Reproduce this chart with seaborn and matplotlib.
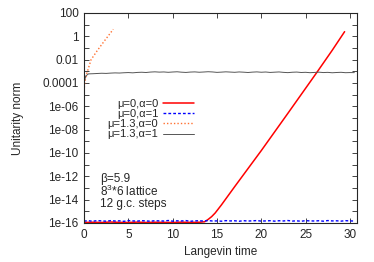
import numpy as np
import pandas as pd
import matplotlib
matplotlib.use("Agg")
import matplotlib.pyplot as plt
import matplotlib.ticker as mticker
import seaborn as sns

# mu=0, alpha=0 (red): flat near roundoff, then exponential growth
red_t = [0, 1, 2, 3, 4, 5, 6, 7, 8, 9, 10, 11, 12, 13, 13.6, 14.0, 14.4, 14.8,
         15.5, 17, 20, 23, 26.3, 28, 29.4]
red_v = [1.1e-16, 1.15e-16, 1.1e-16, 1.2e-16, 1.12e-16, 1.1e-16, 1.18e-16, 1.1e-16,
         1.15e-16, 1.12e-16, 1.1e-16, 1.17e-16, 1.12e-16, 1.15e-16, 1.26e-16, 2.0e-16,
         3.5e-16, 7.2e-16, 3.5e-15, 1.3e-13, 1.6e-10, 2.5e-7, 8.7e-4, 0.063, 2.5]

# mu=0, alpha=1 (blue dashed), every 0.5 in Langevin time, units of 1e-16
blue_v = [1.45, 1.55, 1.4, 1.6, 1.5, 1.42, 1.58, 1.47, 1.52, 1.38,
          1.6, 1.5, 1.44, 1.57, 1.49, 1.41, 1.56, 1.5, 1.46, 1.62,
          1.43, 1.53, 1.48, 1.59, 1.4, 1.51, 1.55, 1.45, 1.6, 1.47,
          1.5, 1.42, 1.58, 1.49, 1.54, 1.41, 1.57, 1.46, 1.52, 1.6,
          1.44, 1.5, 1.56, 1.43, 1.55, 1.48, 1.61, 1.45, 1.52, 1.4,
          1.58, 1.5, 1.47, 1.55, 1.42, 1.6, 1.49, 1.53, 1.44, 1.57, 1.5, 1.46]

# mu=1.3, alpha=0 (orange dotted)
orange_t = [0, 0.02, 0.1, 0.3, 0.8, 1.5, 2.3, 3.3]
orange_v = [1e-16, 3e-5, 1.3e-4, 6e-4, 1e-2, 6e-2, 0.4, 4.0]

# mu=1.3, alpha=1 (grey): start-up, then plateau every 0.5 from t=1 (units of 1e-4)
grey_start_t = [0, 0.02, 0.2, 0.5]
grey_start_v = [1e-16, 1.2e-4, 4e-4, 6e-4]
grey_plateau = [6.2, 6.5, 6.8, 6.6, 7.0, 7.3, 7.1, 7.5, 7.8, 7.4,
                8.0, 8.3, 7.9, 8.6, 9.0, 8.5, 8.8, 8.2, 8.7, 9.1,
                8.4, 8.0, 8.6, 8.9, 8.3, 8.7, 9.2, 8.8, 8.1, 8.5,
                9.0, 8.6, 8.2, 8.8, 8.4, 7.9, 8.5, 8.9, 8.3, 8.7,
                8.0, 8.4, 8.8, 8.1, 7.7, 8.3, 8.6, 7.9, 8.2, 7.6,
                8.0, 8.4, 7.8, 8.1, 7.5, 7.9, 8.2, 7.6, 7.8, 7.7]

labels = ["μ=0,α=0", "μ=0,α=1", "μ=1.3,α=0", "μ=1.3,α=1"]
ytick_vals = [1e-16, 1e-14, 1e-12, 1e-10, 1e-8, 1e-6, 1e-4, 1e-2, 1, 100]
ytick_labels = ["1e-16", "1e-14", "1e-12", "1e-10", "1e-08", "1e-06",
                "0.0001", "0.01", "1", "100"]

blue_t = np.arange(len(blue_v)) * 0.5
blue = np.array(blue_v) * 1e-16
grey_t = grey_start_t + list(1.0 + np.arange(len(grey_plateau)) * 0.5)
grey = grey_start_v + list(np.array(grey_plateau) * 1e-4)

sns.set_style("ticks")
plt.rcParams["font.family"] = ["Liberation Sans", "DejaVu Sans"]
plt.rcParams["font.size"] = 8
plt.rcParams["mathtext.fontset"] = "custom"
plt.rcParams["mathtext.rm"] = "Liberation Sans"
plt.rcParams["mathtext.it"] = "Liberation Sans"

fig = plt.figure(figsize=(3.74, 2.62), dpi=100)
ax = fig.add_axes([0.2246, 0.149, 0.73, 0.8015])

sns.lineplot(x=red_t, y=red_v, color="#ff0000", lw=1.1, ax=ax, sort=False,
             estimator=None, label=labels[0])
sns.lineplot(x=blue_t, y=blue, color="#0000ff", lw=1.0, ls=(0, (2, 1.5)), ax=ax,
             sort=False, estimator=None, label=labels[1])
sns.lineplot(x=orange_t, y=orange_v, color="#ff7030", lw=1.0, ls=(0, (1, 1.5)), ax=ax,
             sort=False, estimator=None, label=labels[2])
sns.lineplot(x=grey_t, y=grey, color="#555555", lw=0.7, ax=ax, sort=False,
             estimator=None, label=labels[3])

ax.set_yscale("log")
ax.set_xlim(0, 30.8)
ax.set_ylim(1e-16, 100)
ax.yaxis.set_major_locator(mticker.FixedLocator(ytick_vals))
ax.yaxis.set_major_formatter(mticker.FixedFormatter(ytick_labels))
ax.yaxis.set_minor_locator(mticker.FixedLocator([10.0 ** k for k in range(-15, 2, 2)]))
ax.yaxis.set_minor_formatter(mticker.NullFormatter())
ax.set_xticks([0, 5, 10, 15, 20, 25, 30])
ax.tick_params(which="both", direction="in", top=True, right=True, labelsize=8.5,
               length=3.5, width=0.6, pad=4)
ax.tick_params(which="minor", length=3.5)
for s in ax.spines.values():
    s.set_linewidth(0.8)

ax.set_xlabel("Langevin time", fontsize=8.5, labelpad=4)
ax.set_ylabel("Unitarity norm", fontsize=8.5, labelpad=13)

ax.text(0.058, 0.238, "β=5.9\n8$^3$*6 lattice\n12 g.c. steps", transform=ax.transAxes,
        ha="left", va="top", fontsize=8.5, linespacing=0.92)

ax.legend(loc="upper right", bbox_to_anchor=(0.53, 0.64),
          bbox_transform=fig.transFigure, frameon=False, markerfirst=False,
          fontsize=8, handlelength=2.8, handletextpad=0.4, labelspacing=0.02,
          borderaxespad=0)

fig.savefig("out.png", dpi=100)
